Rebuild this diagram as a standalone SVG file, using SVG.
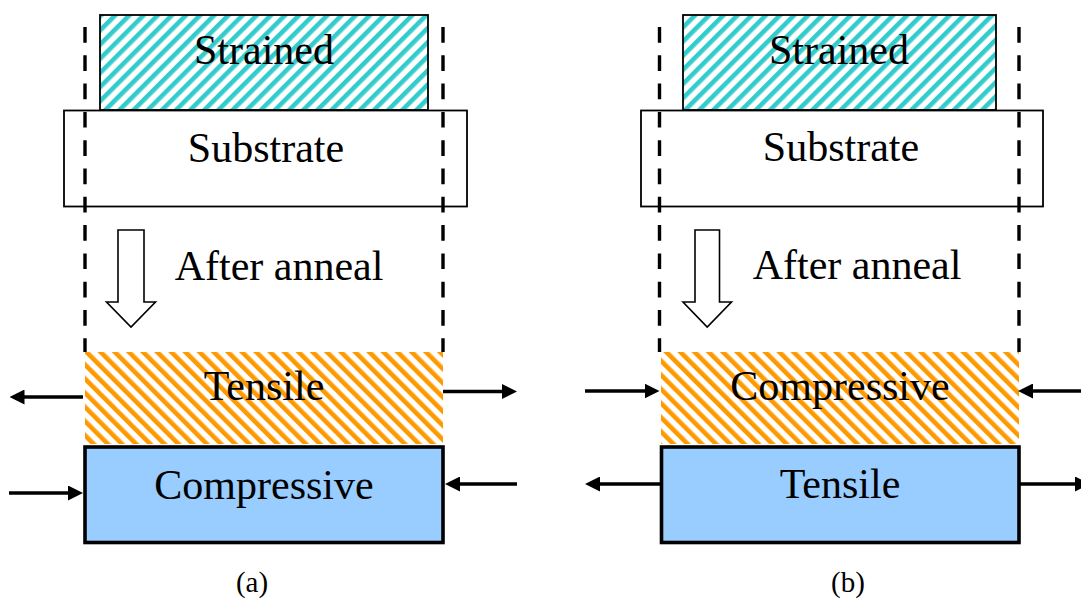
<svg xmlns="http://www.w3.org/2000/svg" width="1081" height="601" viewBox="0 0 1081 601">
<style>
text{font-family:"Liberation Serif","Times New Roman",serif;fill:#000;text-anchor:middle}
.lbl{font-size:42px}
.cap{font-size:29px}
.thin{fill:#fff;stroke:#000;stroke-width:1.8}
.box{fill:#99CCFF;stroke:#000;stroke-width:3.6}
.dash{stroke:#000;stroke-width:3.4;stroke-dasharray:15.7 12.6;fill:none}
.force{stroke:#000;stroke-width:3.4;fill:none;marker-end:url(#ah)}
.hollow{fill:#fff;stroke:#000;stroke-width:1.6;stroke-linejoin:miter}
</style>
<defs>
<pattern id="cyan" patternUnits="userSpaceOnUse" width="10" height="10" patternTransform="rotate(45)">
<rect width="10" height="10" fill="#fff"/>
<rect x="0" y="0" width="4.6" height="10" fill="#33CCCC"/>
</pattern>
<pattern id="orange" patternUnits="userSpaceOnUse" width="10" height="10" patternTransform="rotate(-45)">
<rect width="10" height="10" fill="#fff"/>
<rect x="0" y="0" width="4.6" height="10" fill="#FF9900"/>
</pattern>
<marker id="ah" markerUnits="userSpaceOnUse" markerWidth="15" markerHeight="15" viewBox="0 0 15 15" refX="5" refY="7.5" orient="auto">
<path d="M0,0 L15,7.5 L0,15 Z" fill="#000"/>
</marker>
</defs>

<g id="panel-a">
<g id="a-strained"><rect x="100" y="15" width="328" height="95" fill="url(#cyan)" stroke="#000" stroke-width="1.8"/><text class="lbl" x="264" y="64">Strained</text></g>
<g id="a-substrate"><rect class="thin" x="64" y="110.5" width="403" height="96"/><text class="lbl" x="266" y="162">Substrate</text></g>
<g id="a-anneal"><path class="hollow" d="M118,230 H144 V302 H155.5 L131,327 L106.5,302 H118 Z"/><text class="lbl" x="279" y="280">After anneal</text></g>
<g id="a-top"><rect x="85" y="352" width="358" height="92" fill="url(#orange)"/><text class="lbl" x="264" y="400">Tensile</text></g>
<g id="a-bottom"><rect class="box" x="85" y="447" width="358" height="95.5"/><text class="lbl" x="264" y="499">Compressive</text></g>
<text class="cap" x="252" y="592">(a)</text>
</g>

<g id="panel-b">
<g id="b-strained"><rect x="683" y="15" width="313" height="95" fill="url(#cyan)" stroke="#000" stroke-width="1.8"/><text class="lbl" x="839" y="64">Strained</text></g>
<g id="b-substrate"><rect class="thin" x="641" y="110.5" width="402" height="96"/><text class="lbl" x="841" y="161">Substrate</text></g>
<g id="b-anneal"><path class="hollow" d="M695,230 H719.5 V302 H731.5 L707.2,327 L683,302 H695 Z"/><text class="lbl" x="857" y="279">After anneal</text></g>
<g id="b-top"><rect x="661" y="352" width="358" height="92" fill="url(#orange)"/><text class="lbl" x="840" y="400">Compressive</text></g>
<g id="b-bottom"><rect class="box" x="661.5" y="447" width="357.5" height="95.5"/><text class="lbl" x="840" y="498">Tensile</text></g>
<text class="cap" x="848" y="592">(b)</text>
</g>

<g id="connectors">
<line class="dash" x1="85" y1="27" x2="85" y2="352"/>
<line class="dash" x1="443" y1="27" x2="443" y2="352"/>
<line class="dash" x1="659.5" y1="27" x2="659.5" y2="352"/>
<line class="dash" x1="1019" y1="27" x2="1019" y2="352"/>
<line class="force" x1="83" y1="397" x2="19.5" y2="397"/>
<line class="force" x1="443" y1="391.5" x2="507" y2="391.5"/>
<line class="force" x1="9" y1="493" x2="73" y2="493"/>
<line class="force" x1="517" y1="484" x2="455" y2="484"/>
<line class="force" x1="585" y1="391" x2="649.5" y2="391"/>
<line class="force" x1="1081" y1="391" x2="1028" y2="391"/>
<line class="force" x1="661" y1="484" x2="595" y2="484"/>
<line class="force" x1="1019" y1="484" x2="1080" y2="484"/>
</g>
</svg>
